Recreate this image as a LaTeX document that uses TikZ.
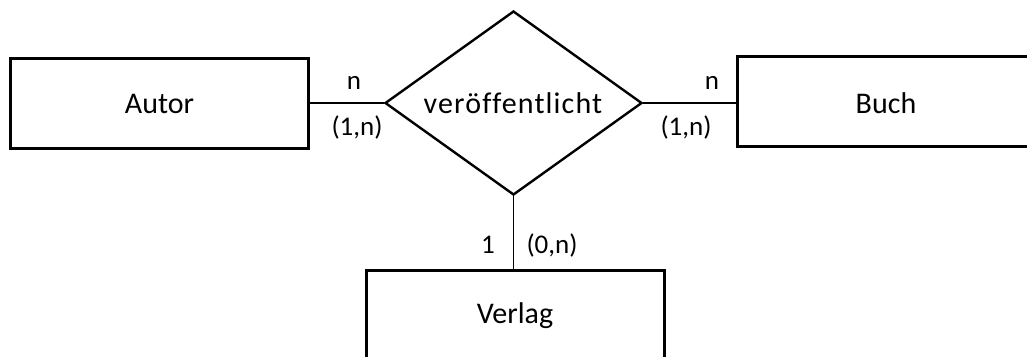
\documentclass[tikz,border=0pt]{standalone}
\usepackage{fontspec}
\setmainfont{Carlito}[Ligatures=CommonOff]
\newfontfamily\relfont{Carlito}[Ligatures=CommonOff,LetterSpace=3.8]
\usetikzlibrary{shapes.geometric}
\begin{document}
\begin{tikzpicture}[x=1pt,y=-1pt,
  entity/.style={draw,line width=3pt,minimum width=298pt,minimum height=90pt,inner sep=0pt},
  relation/.style={draw,diamond,line width=2.4pt,shape aspect=1.4,minimum width=257pt,minimum height=184pt,inner sep=0pt},
  conn/.style={line width=1.3pt},
  card/.style={anchor=base,inner sep=0pt,font=\fontsize{27}{32}\selectfont},
  lbl/.style={anchor=base,inner sep=0pt,font=\fontsize{30}{36}\selectfont}]
\useasboundingbox (0,0) rectangle (1027,356);
\clip (0,0) rectangle (1027,356);
\fill[white] (0,0) rectangle (1027,356);
\node[entity] (autor) at (159.5,103) {};
\node[lbl] (autorT) at (159.5,113) {Autor};
\node[relation] (rel) at (513.5,103) {};
\node[lbl,font=\relfont\fontsize{30}{36}\selectfont] (relT) at (513,113) {veröffentlicht};
\node[entity] (buch) at (886,101) {};
\node[lbl] (buchT) at (886,113) {Buch};
\node[entity] (verlag) at (515,315) {};
\node[lbl] (verlagT) at (515,323) {Verlag};
\draw[conn] (autor.east |- rel.west) -- (rel.west);
\draw[conn] (rel.east) -- (rel.east -| buch.west);
\draw[conn] (rel.south) -- (rel.south |- verlag.north);
\node[card] (c1) at (354,89) {n};
\node[card] (c2) at (357,135) {(1,n)};
\node[card] (c3) at (712,89) {n};
\node[card] (c4) at (686,135) {(1,n)};
\node[card] (c5) at (488,253) {1};
\node[card] (c6) at (552,253) {(0,n)};
\end{tikzpicture}
\end{document}
